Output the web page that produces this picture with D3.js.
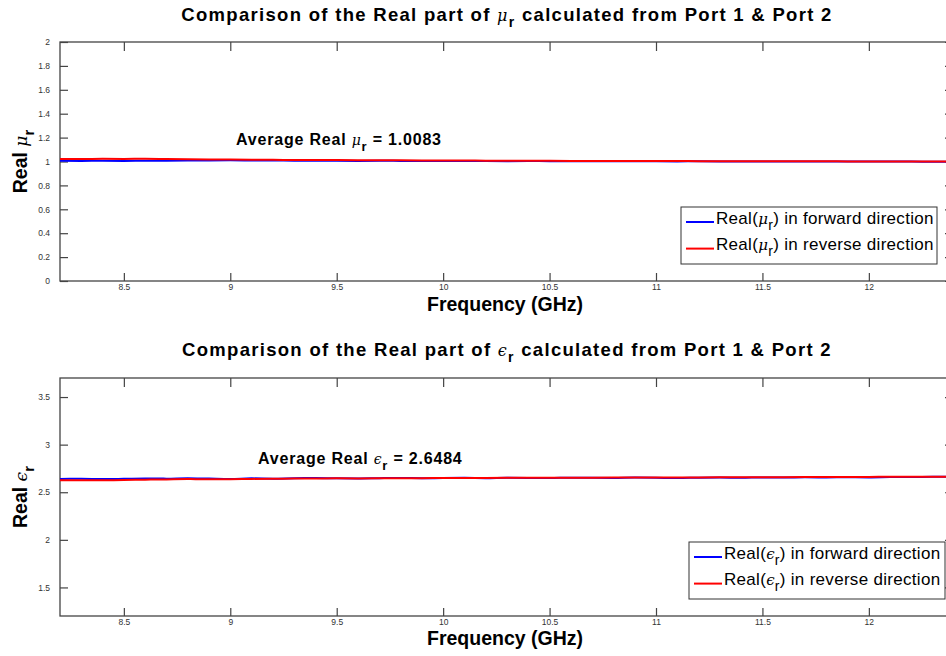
<!DOCTYPE html>
<html>
<head>
<meta charset="utf-8">
<script src="https://cdn.jsdelivr.net/npm/d3@7"></script>
<style>
  body { margin: 0; background: #fff; }
  svg { display: block; font-family: "Liberation Sans", Arial, sans-serif; }
  .tick text { fill: #333; font-size: 8.5px; }
  .tick line { stroke: #444; stroke-width: 1.2; }
</style>
</head>
<body>
<svg id="chart" width="946" height="656"></svg>
<script>
// frequency points (GHz)
const freq = [8.2, 8.3, 8.4, 8.5, 8.6, 8.7, 8.8, 8.9, 9.0, 9.1, 9.2, 9.3, 9.4, 9.5, 9.6,
  9.7, 9.8, 9.9, 10.0, 10.1, 10.2, 10.3, 10.4, 10.5, 10.6, 10.7, 10.8, 10.9, 11.0, 11.1,
  11.2, 11.3, 11.4, 11.5, 11.6, 11.7, 11.8, 11.9, 12.0, 12.1, 12.2, 12.3, 12.4];

const muForward = [1.006, 1.005, 1.006, 1.005, 1.006, 1.007, 1.008, 1.009, 1.010, 1.009,
  1.008, 1.007, 1.006, 1.006, 1.005, 1.006, 1.005, 1.004, 1.005, 1.004, 1.004, 1.003,
  1.004, 1.003, 1.003, 1.002, 1.003, 1.002, 1.002, 1.001, 1.002, 1.001, 1.001, 1.000,
  1.001, 1.000, 1.000, 0.999, 1.000, 0.999, 0.999, 0.998, 0.999];

const muReverse = [1.021, 1.020, 1.022, 1.021, 1.023, 1.021, 1.019, 1.017, 1.016, 1.015,
  1.014, 1.013, 1.012, 1.012, 1.011, 1.010, 1.010, 1.009, 1.008, 1.008, 1.007, 1.007,
  1.006, 1.006, 1.005, 1.005, 1.005, 1.004, 1.004, 1.004, 1.003, 1.003, 1.003, 1.002,
  1.002, 1.002, 1.002, 1.001, 1.001, 1.001, 1.001, 1.000, 1.000];

const epsForward = [2.640, 2.642, 2.638, 2.641, 2.645, 2.643, 2.648, 2.644, 2.640, 2.646,
  2.643, 2.647, 2.649, 2.646, 2.645, 2.648, 2.650, 2.647, 2.649, 2.651, 2.648, 2.652,
  2.650, 2.649, 2.653, 2.651, 2.650, 2.654, 2.652, 2.649, 2.653, 2.655, 2.652, 2.656,
  2.654, 2.657, 2.655, 2.658, 2.656, 2.659, 2.660, 2.662, 2.663];

const epsReverse = [2.625, 2.627, 2.626, 2.628, 2.632, 2.635, 2.638, 2.636, 2.637, 2.640,
  2.642, 2.644, 2.645, 2.646, 2.645, 2.647, 2.648, 2.648, 2.649, 2.650, 2.650, 2.651,
  2.651, 2.652, 2.652, 2.653, 2.654, 2.654, 2.655, 2.655, 2.656, 2.657, 2.657, 2.658,
  2.658, 2.659, 2.660, 2.660, 2.661, 2.662, 2.662, 2.663, 2.664];

const xTicks = [8.5, 9, 9.5, 10, 10.5, 11, 11.5, 12];
const muTicks = [0, 0.2, 0.4, 0.6, 0.8, 1, 1.2, 1.4, 1.6, 1.8, 2];
const epsTicks = [1.5, 2, 2.5, 3, 3.5];

const svg = d3.select('#chart');
const left = 60, right = 954;
const symFont = 'DejaVu Serif';

// one MATLAB-style panel
function drawPanel(opts) {
  const {top, bottom, yDomain, yTicks, fwd, rev, sym, avgText, avgX, avgY, legendBox, titleY, xlabelY} = opts;

  const x = d3.scaleLinear().domain([8.2, 12.4]).range([left, right]);
  const y = d3.scaleLinear().domain(yDomain).range([bottom, top]);

  const g = svg.append('g');

  // box
  g.append('rect')
    .attr('x', left).attr('y', top)
    .attr('width', right - left).attr('height', bottom - top)
    .attr('fill', 'none').attr('stroke', '#444').attr('stroke-width', 1.3);

  // axes, ticks pointing inward
  g.append('g')
    .attr('transform', `translate(0,${bottom})`)
    .call(d3.axisBottom(x).tickValues(xTicks).tickSize(-8).tickPadding(3).tickFormat(d3.format('')))
    .call(a => a.select('.domain').remove());
  g.append('g')
    .attr('transform', `translate(0,${top})`)
    .call(d3.axisTop(x).tickValues(xTicks).tickSize(-9).tickFormat(''))
    .call(a => a.select('.domain').remove());
  g.append('g')
    .attr('transform', `translate(${left},0)`)
    .call(d3.axisLeft(y).tickValues(yTicks).tickSize(-8).tickPadding(10).tickFormat(d3.format('')))
    .call(a => a.select('.domain').remove());
  g.append('g')
    .attr('transform', `translate(${right},0)`)
    .call(d3.axisRight(y).tickValues(yTicks).tickSize(-9).tickFormat(''))
    .call(a => a.select('.domain').remove());

  const line = d3.line()
    .x((d, i) => x(freq[i]))
    .y(d => y(d))
    .curve(d3.curveMonotoneX);

  g.append('path').datum(fwd)
    .attr('fill', 'none').attr('stroke', '#0000ff').attr('stroke-width', 2)
    .attr('d', line);
  g.append('path').datum(rev)
    .attr('fill', 'none').attr('stroke', '#ff0000').attr('stroke-width', 2)
    .attr('d', line);

  // title
  const title = g.append('text')
    .attr('x', (left + right) / 2).attr('y', titleY)
    .attr('text-anchor', 'middle')
    .style('font-size', '18.5px').style('font-weight', 'bold')
    .style('letter-spacing', '1.3px');
  title.append('tspan').text('Comparison of the Real part of ');
  title.append('tspan').text(sym).style('font-weight', 'normal').style('font-style', 'italic').style('font-family', symFont).style('font-size', '16px');
  title.append('tspan').text('r').attr('dy', 6).style('font-size', '14px');
  title.append('tspan').text(' calculated from Port 1 & Port 2').attr('dy', -6);

  // x label
  g.append('text')
    .attr('x', (left + right) / 2 - 2).attr('y', xlabelY)
    .attr('text-anchor', 'middle')
    .style('font-size', '19.5px').style('font-weight', 'bold')
    .text('Frequency (GHz)');

  // y label
  const yl = g.append('text')
    .attr('transform', `translate(27,${(top + bottom) / 2}) rotate(-90)`)
    .attr('text-anchor', 'middle')
    .style('font-size', '19.5px').style('font-weight', 'bold');
  yl.append('tspan').text('Real ');
  yl.append('tspan').text(sym).style('font-weight', 'normal').style('font-style', 'italic').style('font-family', symFont).style('font-size', '17px');
  yl.append('tspan').text('r').attr('dy', 7).style('font-size', '15px');

  // average annotation
  const av = g.append('text')
    .attr('x', avgX).attr('y', avgY)
    .style('font-size', '16px').style('font-weight', 'bold')
    .style('letter-spacing', '0.8px');
  av.append('tspan').text('Average Real ');
  av.append('tspan').text(sym).style('font-weight', 'normal').style('font-style', 'italic').style('font-family', symFont).style('font-size', '14px');
  av.append('tspan').text('r').attr('dy', 6).style('font-size', '13px');
  av.append('tspan').text(' = ' + avgText).attr('dy', -6);

  // legend
  const lg = g.append('g').attr('transform', `translate(${legendBox[0]},${legendBox[1]})`);
  lg.append('rect')
    .attr('width', legendBox[2]).attr('height', legendBox[3])
    .attr('fill', '#fff').attr('stroke', '#333').attr('stroke-width', 1);
  const entries = [
    {color: '#0000ff', label: 'in forward direction'},
    {color: '#ff0000', label: 'in reverse direction'}
  ];
  entries.forEach((e, i) => {
    const cy = 15 + i * 26.6;
    lg.append('line')
      .attr('x1', 5).attr('x2', 33).attr('y1', cy).attr('y2', cy)
      .attr('stroke', e.color).attr('stroke-width', 2);
    const t = lg.append('text')
      .attr('x', 35).attr('y', cy + 1.5)
      .style('font-size', '17px').style('letter-spacing', '0.3px');
    t.append('tspan').text('Real(');
    t.append('tspan').text(sym).style('font-style', 'italic').style('font-family', symFont).style('font-size', '15px');
    t.append('tspan').text('r').attr('dy', 6).style('font-size', '14px');
    t.append('tspan').text(') ' + e.label).attr('dy', -6);
  });
}

drawPanel({
  top: 42, bottom: 281, yDomain: [0, 2], yTicks: muTicks,
  fwd: muForward, rev: muReverse, sym: 'μ', avgText: '1.0083',
  avgX: 236, avgY: 145, legendBox: [681, 207, 256, 57],
  titleY: 21, xlabelY: 311
});

drawPanel({
  top: 378, bottom: 616, yDomain: [1.2, 3.7], yTicks: epsTicks,
  fwd: epsForward, rev: epsReverse, sym: 'ϵ', avgText: '2.6484',
  avgX: 258, avgY: 464, legendBox: [689, 542, 256, 57],
  titleY: 356, xlabelY: 645
});
</script>
</body>
</html>
